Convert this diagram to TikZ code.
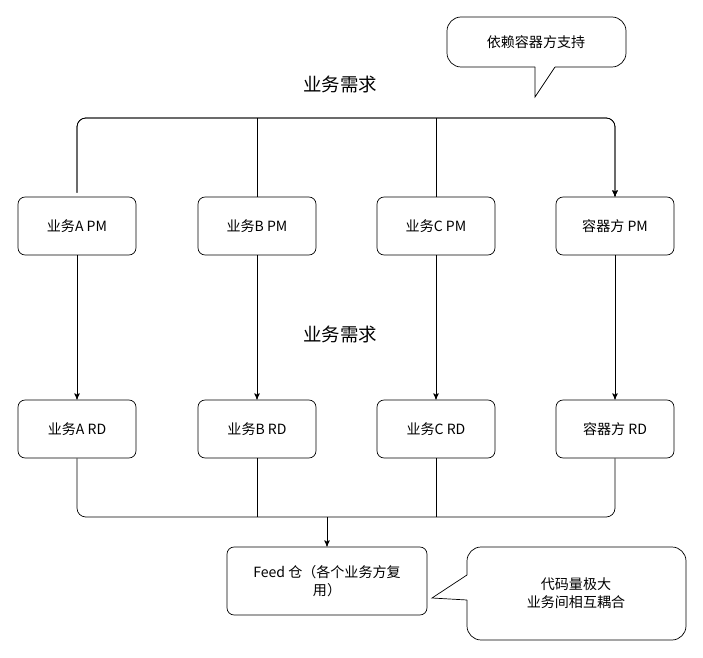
\documentclass[tikz,border=0pt]{standalone}
\usepackage{fontspec}
\setmainfont{Noto Sans CJK SC}
\usetikzlibrary{arrows,positioning}
\begin{document}
\begin{tikzpicture}[x=0.02cm,y=-0.02cm,>=stealth',font=\fontsize{8}{10}\selectfont]

\tikzstyle{roleBox}=[draw=black, rounded corners=4pt, minimum width=2.36cm, minimum height=1.16cm, align=center, thin]
\tikzstyle{bus}=[thin, rounded corners=5pt]
\tikzstyle{title}=[font=\fontsize{10.5}{12}\selectfont]

\useasboundingbox (0,0) rectangle (703,658);

% PM row
\node at (77,226)  [roleBox] (APM) {业务A PM};
\node at (257,226) [roleBox] (BPM) {业务B PM};
\node at (436,226) [roleBox] (CPM) {业务C PM};
\node at (615,226) [roleBox] (RPM) {容器方 PM};

% RD row
\node at (77,429)  [roleBox] (ARD) {业务A RD};
\node at (257,429) [roleBox] (BRD) {业务B RD};
\node at (436,429) [roleBox] (CRD) {业务C RD};
\node at (615,429) [roleBox] (RRD) {容器方 RD};

% Feed
\node at (327,581) [roleBox, minimum width=4cm, minimum height=1.36cm] (Feed) {Feed 仓（各个业务方复\\用）};

% Labels
\node at (340,85)  [title] (Req1) {业务需求};
\node at (340,335) [title] (Req2) {业务需求};

% Top bus
\coordinate (TL) at (77,118);
\coordinate (TR) at (615,118);
\draw[bus] (APM.north) ++(0,-4) |- (TR) -- (RPM.north) [->];
\draw[bus,->] (77,193) |- (TR) -- (RPM.north);
\draw (BPM.north) -- (257,118);
\draw (CPM.north) -- (436,118);

% PM to RD
\foreach \n in {A,B,C,R}
    \draw[->] (\n PM) -- (\n RD);

% Bottom bus
\coordinate (Join) at (327,517);
\draw[bus] (ARD.south) |- (Join) -| (RRD.south);
\draw (BRD.south) -- (257,517);
\draw (CRD.south) -- (436,517);
\draw[->] (Join) -- (Feed.north);

% Callouts
\draw[rounded corners=8pt] (535,67) -- (447,67) -- (447,17) -- (626,17) -- (626,67) -- (555,67);
\draw (555,67) -- (535,97) -- (535,67);
\node at (536,42) (Dep) {依赖容器方支持};

\draw[rounded corners=8pt] (467,575) -- (467,547) -- (686,547) -- (686,640) -- (467,640) -- (467,600);
\draw (467,600) -- (432,598) -- (467,575);
\node at (576,593) [align=center] (Cost) {代码量极大\\业务间相互耦合};

\end{tikzpicture}
\end{document}
